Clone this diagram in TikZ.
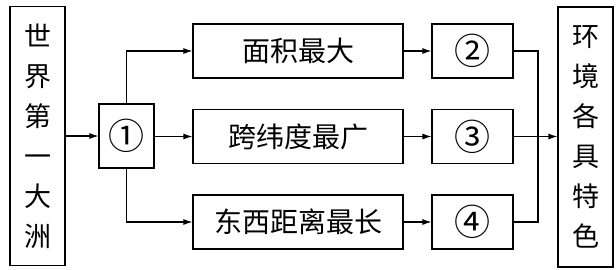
\documentclass[tikz,border=0pt]{standalone}
\usepackage{fontspec}
\setmainfont{Noto Sans CJK SC}
\usetikzlibrary{arrows.meta}
\begin{document}
\begin{tikzpicture}[x=1pt,y=-1pt,
  box/.style={draw,line width=1.1pt,rectangle,inner sep=0pt},
  vtext/.style={box,minimum width=55pt,align=center,font=\fontsize{27}{40}\selectfont},
  midbox/.style={box,minimum width=210pt,minimum height=54pt,font=\fontsize{28}{30}\selectfont},
  numfont/.style={font=\fontsize{36}{36}\selectfont},
  numbox/.style={box,numfont,minimum width=81pt,minimum height=54pt},
  conn/.style={line width=1.1pt},
  arr/.style={conn,-{Latex[length=9pt,width=6pt]}}]
\useasboundingbox (0,0) rectangle (616,269);
\node[vtext,minimum height=259pt] (L) at (37.5,136) {世\\界\\第\\一\\大\\洲};
\node[box,numfont,minimum width=55pt,minimum height=64pt] (c1) at (126.5,136) {①};
\node[midbox] (m1) at (298,51) {面积最大};
\node[midbox] (m2) at (298,136.5) {跨纬度最广};
\node[midbox] (m3) at (298,222) {东西距离最长};
\node[numbox] (n2) at (472.5,51) {②};
\node[numbox] (n3) at (472.5,136.5) {③};
\node[numbox] (n4) at (472.5,222) {④};
\node[vtext,minimum height=260pt] (R) at (585.5,137) {环\\境\\各\\具\\特\\色};
\coordinate (j1) at (538,51);
\coordinate (j2) at (538,222);
\draw[arr] (L.east |- c1.west) -- (c1.west);
\draw[arr] (c1.north) -- (c1.north |- m1.west) -- (m1.west);
\draw[arr] (c1.east |- m2.west) -- (m2.west);
\draw[arr] (c1.south) -- (c1.south |- m3.west) -- (m3.west);
\draw[arr] (m1) -- (n2);
\draw[arr] (m2) -- (n3);
\draw[arr] (m3) -- (n4);
\draw[conn] (n2.east) -- (j1) -- (j2) -- (n4.east);
\draw[arr] (n3.east) -- (R.west |- n3.east);
\end{tikzpicture}
\end{document}
